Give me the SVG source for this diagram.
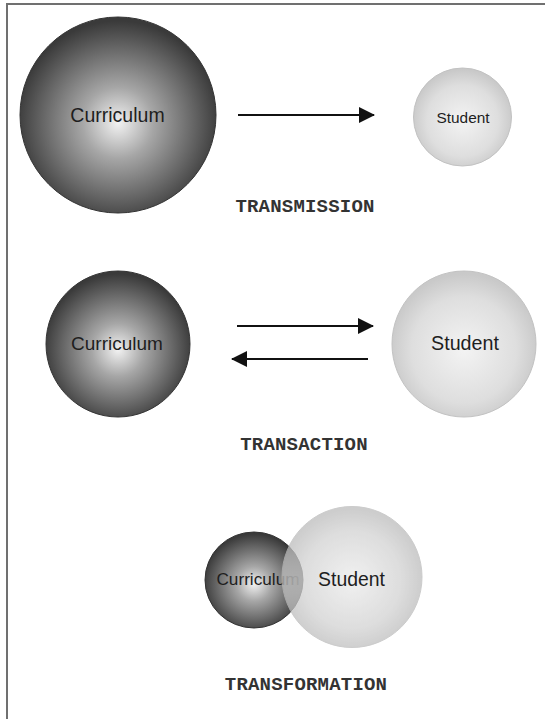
<svg xmlns="http://www.w3.org/2000/svg" width="545" height="719" viewBox="0 0 545 719">
<defs>
<radialGradient id="curr" cx="50%" cy="54%" r="52%">
<stop offset="0" stop-color="#f2f2f2"/>
<stop offset="0.35" stop-color="#a6a6a6"/>
<stop offset="0.75" stop-color="#646464"/>
<stop offset="1" stop-color="#3a3a3a"/>
</radialGradient>
<radialGradient id="stud" cx="50%" cy="54%" r="52%">
<stop offset="0" stop-color="#f3f3f3"/>
<stop offset="0.7" stop-color="#dedede"/>
<stop offset="1" stop-color="#c9c9c9"/>
</radialGradient>
<radialGradient id="stud3" cx="50%" cy="52%" r="50%">
<stop offset="0" stop-color="#ececec"/>
<stop offset="0.7" stop-color="#d2d2d2"/>
<stop offset="1" stop-color="#bdbdbd"/>
</radialGradient>
<marker id="ah" viewBox="0 0 16 16" refX="15" refY="8" markerWidth="16" markerHeight="16" markerUnits="userSpaceOnUse" orient="auto">
<path d="M0,0 L16,8 L0,16 Z" fill="#111"/>
</marker>
<style>
.curr{fill:url(#curr);stroke:#333;stroke-width:1}
.stud{fill:url(#stud);stroke:#c2c2c2;stroke-width:1}
.lbl{font-family:"Liberation Sans",Arial,sans-serif;fill:#1e1e1e;text-anchor:middle;dominant-baseline:central}
.title{font-family:"Liberation Mono","Courier New",monospace;font-weight:bold;font-size:19px;letter-spacing:0.2px;fill:#333;text-anchor:middle;dominant-baseline:central}
.conn{stroke:#111;stroke-width:2;fill:none}
.frame{stroke:#707070;stroke-width:2;fill:none}
</style>
</defs>
<rect x="0" y="0" width="545" height="719" fill="#fff"/>
<path class="frame" d="M7,719 L7,4 L545,4"/>

<g id="transmission-curriculum">
<ellipse class="curr" cx="118" cy="115" rx="98" ry="98"/>
<text class="lbl" x="117.5" y="115" font-size="19.5">Curriculum</text>
</g>
<g id="transmission-student">
<ellipse class="stud" cx="462.5" cy="117" rx="49" ry="49"/>
<text class="lbl" x="463" y="117" font-size="15.4">Student</text>
</g>
<text class="title" x="305" y="207">TRANSMISSION</text>

<g id="transaction-curriculum">
<ellipse class="curr" cx="118" cy="344" rx="72" ry="73"/>
<text class="lbl" x="117" y="343" font-size="19">Curriculum</text>
</g>
<g id="transaction-student">
<ellipse class="stud" cx="464" cy="344" rx="72" ry="73"/>
<text class="lbl" x="465" y="343" font-size="19.7">Student</text>
</g>
<text class="title" x="304" y="445">TRANSACTION</text>

<g id="transformation-curriculum">
<ellipse class="curr" cx="254" cy="580" rx="49" ry="48"/>
<text class="lbl" x="258" y="579" font-size="17.2">Curriculum</text>
</g>
<g id="transformation-student">
<ellipse cx="352" cy="577" rx="70" ry="70.5" fill="url(#stud3)" stroke="#bbb" stroke-width="1" opacity="0.75"/>
<text class="lbl" x="351.5" y="579" font-size="19.4">Student</text>
</g>
<text class="title" x="306" y="685">TRANSFORMATION</text>

<g id="connectors">
<line class="conn" x1="238" y1="115" x2="374" y2="115" marker-end="url(#ah)"/>
<line class="conn" x1="237" y1="326" x2="373" y2="326" marker-end="url(#ah)"/>
<line class="conn" x1="368" y1="359" x2="232" y2="359" marker-end="url(#ah)"/>
</g>
</svg>
